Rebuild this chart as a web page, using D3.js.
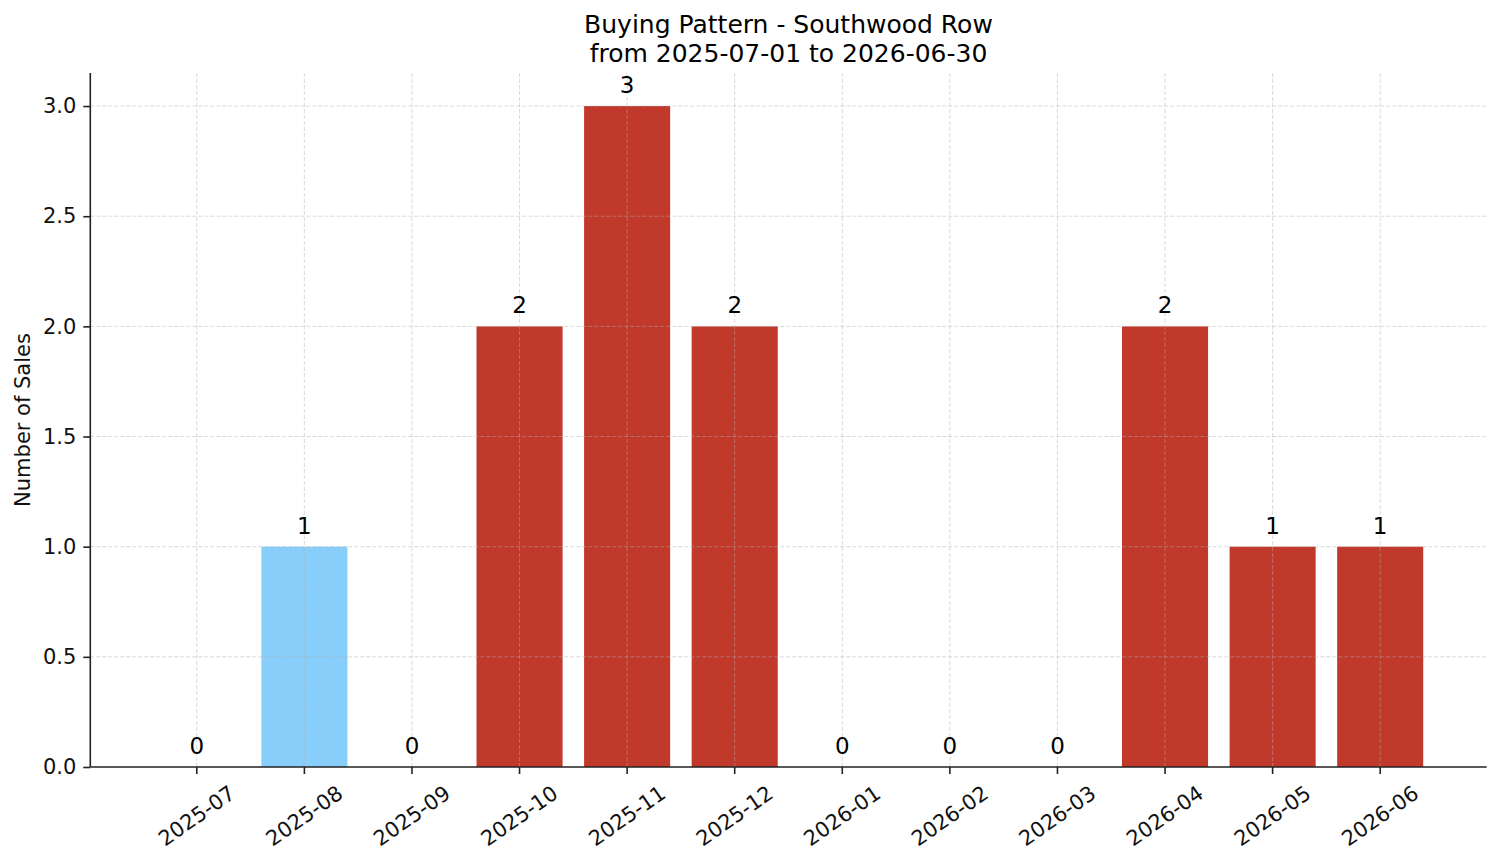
<!DOCTYPE html>
<html>
<head>
<meta charset="utf-8">
<script src="https://cdn.jsdelivr.net/npm/d3@7"></script>
<style>
  body { margin: 0; background: #fff; }
  svg { display: block; font-family: "DejaVu Sans", sans-serif; }
</style>
</head>
<body>
<div id="chart"></div>
<script>
'use strict';

// data
const months = ['2025-07', '2025-08', '2025-09', '2025-10', '2025-11', '2025-12',
    '2026-01', '2026-02', '2026-03', '2026-04', '2026-05', '2026-06'];
const sales = [0, 1, 0, 2, 3, 2, 0, 0, 0, 2, 1, 1];
const highlightMonths = ['2025-08'];
const yTicks = [0, 0.5, 1.0, 1.5, 2.0, 2.5, 3.0];
const titleLines = ['Buying Pattern - Southwood Row', 'from 2025-07-01 to 2026-06-30'];

const width = 1501;
const height = 863;
const margin = { top: 73, right: 14.3, bottom: 96, left: 90.3 };
const chartWidth = width - margin.left - margin.right;
const chartHeight = height - margin.top - margin.bottom;

const data = months.map(function (m, i) {
    return { month: m, value: sales[i] };
});

const svg = d3.select('#chart')
    .append('svg')
    .attr('width', width)
    .attr('height', height);

const chart = svg.append('g')
    .attr('transform', `translate(${margin.left},${margin.top})`);

// scales
const xScale = d3.scaleBand()
    .domain(months)
    .range([0, chartWidth])
    .paddingInner(0.2)
    .paddingOuter(0.59);

const yScale = d3.scaleLinear()
    .domain([0, 3.15])
    .range([chartHeight, 0]);

// bars
chart.selectAll('rect.bar')
    .data(data)
    .join('rect')
    .attr('class', 'bar')
    .attr('x', function (d) { return xScale(d.month); })
    .attr('y', function (d) { return yScale(d.value); })
    .attr('width', xScale.bandwidth())
    .attr('height', function (d) { return chartHeight - yScale(d.value); })
    .attr('fill', function (d) {
        return highlightMonths.includes(d.month) ? '#87cefa' : '#c0392b';
    });

// grid, drawn over the bars like the original
const grid = chart.append('g')
    .attr('stroke', '#b0b0b0')
    .attr('stroke-opacity', 0.6)
    .attr('stroke-width', 0.8)
    .attr('stroke-dasharray', '4,2');

grid.selectAll('line.hgrid')
    .data(yTicks.slice(1))
    .join('line')
    .attr('class', 'hgrid')
    .attr('x1', 0)
    .attr('x2', chartWidth)
    .attr('y1', function (d) { return yScale(d); })
    .attr('y2', function (d) { return yScale(d); });

grid.selectAll('line.vgrid')
    .data(months)
    .join('line')
    .attr('class', 'vgrid')
    .attr('x1', function (d) { return xScale(d) + xScale.bandwidth() / 2; })
    .attr('x2', function (d) { return xScale(d) + xScale.bandwidth() / 2; })
    .attr('y1', 0)
    .attr('y2', chartHeight);

// value labels above bars
chart.selectAll('text.bar-label')
    .data(data)
    .join('text')
    .attr('class', 'bar-label')
    .attr('x', function (d) { return xScale(d.month) + xScale.bandwidth() / 2; })
    .attr('y', function (d) { return yScale(d.value) - 13; })
    .attr('text-anchor', 'middle')
    .attr('font-size', 23)
    .attr('fill', '#000')
    .text(function (d) { return d.value; });

// axes
const yAxis = d3.axisLeft(yScale)
    .tickValues(yTicks)
    .tickFormat(d3.format('.1f'))
    .tickSize(7)
    .tickPadding(7);

const yAxisG = chart.append('g').call(yAxis);
yAxisG.select('.domain').remove();
yAxisG.selectAll('line').attr('stroke', '#222').attr('stroke-width', 1.6);
yAxisG.selectAll('text').attr('font-size', 21).attr('fill', '#111').attr('font-family', 'DejaVu Sans');

const xAxis = d3.axisBottom(xScale)
    .tickSize(7)
    .tickSizeOuter(0);

const xAxisG = chart.append('g')
    .attr('transform', `translate(0,${chartHeight})`)
    .call(xAxis);
xAxisG.select('.domain').remove();
xAxisG.selectAll('line').attr('stroke', '#222').attr('stroke-width', 1.6);
xAxisG.selectAll('text')
    .attr('font-size', 21)
    .attr('fill', '#111')
    .attr('font-family', 'DejaVu Sans')
    .attr('y', null)
    .attr('dy', null)
    .attr('text-anchor', 'middle')
    .attr('dominant-baseline', 'central')
    .attr('transform', 'translate(0,49) rotate(-35)');

// spines: left and bottom only
chart.append('line')
    .attr('x1', 0).attr('x2', 0)
    .attr('y1', 0).attr('y2', chartHeight)
    .attr('stroke', '#222')
    .attr('stroke-width', 1.6);

chart.append('line')
    .attr('x1', 0).attr('x2', chartWidth)
    .attr('y1', chartHeight).attr('y2', chartHeight)
    .attr('stroke', '#222')
    .attr('stroke-width', 1.6);

// axis title
svg.append('text')
    .attr('transform', `translate(23,${margin.top + chartHeight / 2}) rotate(-90)`)
    .attr('text-anchor', 'middle')
    .attr('dominant-baseline', 'central')
    .attr('font-size', 21)
    .attr('fill', '#111')
    .text('Number of Sales');

// title
svg.append('text')
    .selectAll('tspan')
    .data(titleLines)
    .join('tspan')
    .attr('x', margin.left + chartWidth / 2)
    .attr('y', function (d, i) { return 33 + i * 29; })
    .attr('text-anchor', 'middle')
    .attr('font-size', 25)
    .attr('fill', '#000')
    .text(function (d) { return d; });
</script>
</body>
</html>
